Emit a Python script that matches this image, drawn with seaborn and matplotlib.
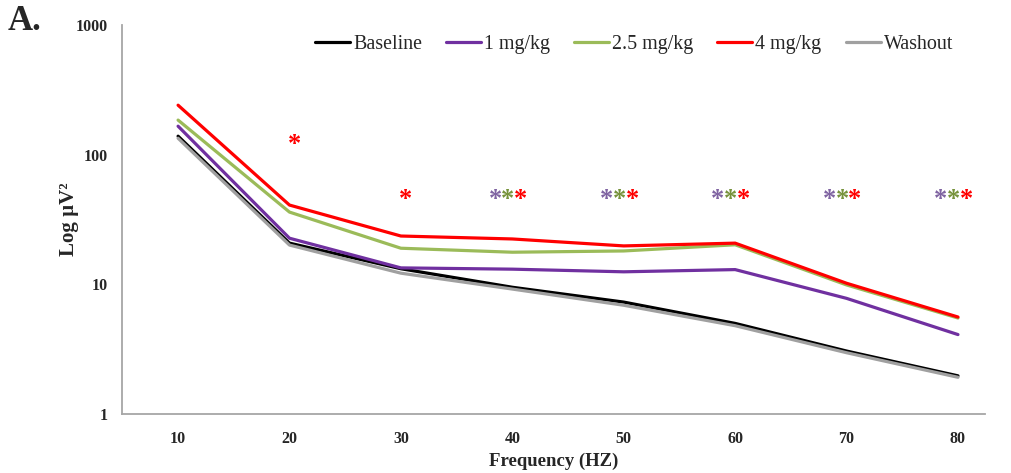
import matplotlib
matplotlib.use('Agg')
import matplotlib.pyplot as plt
import pandas as pd
import seaborn as sns
from matplotlib.ticker import FixedLocator, NullLocator

frequency = [10, 20, 30, 40, 50, 60, 70, 80]
baseline = [139, 20.8, 13.2, 9.5, 7.3, 5.0, 3.06, 1.97]
dose_1 = [166, 22.7, 13.4, 13.1, 12.5, 13.0, 7.8, 4.1]
dose_2_5 = [185, 36.1, 19.0, 17.7, 18.1, 20.2, 9.9, 5.5]
dose_4 = [241, 40.9, 23.6, 22.4, 19.8, 20.8, 10.2, 5.6]
washout = [134, 20.1, 12.2, 9.2, 6.9, 4.8, 2.97, 1.92]

series_names = ['Baseline', '1 mg/kg', '2.5 mg/kg', '4 mg/kg', 'Washout']
series_values = [baseline, dose_1, dose_2_5, dose_4, washout]
colors = ['#000000', '#7030a0', '#9bbb59', '#ff0000', '#a0a0a0']

# significance markers: (frequency, height, which doses)
star_freq = [20, 30, 40, 50, 60, 70, 80]
star_height = [119, 45, 45, 45, 45, 45, 45]
star_groups = [['4'], ['4'], ['1', '2.5', '4'], ['1', '2.5', '4'],
               ['1', '2.5', '4'], ['1', '2.5', '4'], ['1', '2.5', '4']]
star_colors = {'1': '#8064a2', '2.5': '#77933c', '4': '#ff0000'}

sns.set_style('white')
plt.rcParams['font.family'] = ['Liberation Serif', 'DejaVu Serif']

rows = []
for name, vals in zip(series_names, series_values):
    for f, v in zip(frequency, vals):
        rows.append({'freq': f, 'power': v, 'group': name})
df = pd.DataFrame(rows)

fig = plt.figure(figsize=(10.11, 4.73), dpi=100)
ax = fig.add_axes([0.1207, 0.1247, 0.8533, 0.8223])

sns.lineplot(data=df, x='freq', y='power', hue='group', hue_order=series_names,
             palette=colors, linewidth=2.3, ax=ax)
ax.set_yscale('log')
ax.set_ylim(1, 1000)
ax.set_xlim(4.97, 82.4)
ax.yaxis.set_major_locator(FixedLocator([1, 10, 100, 1000]))
ax.yaxis.set_minor_locator(NullLocator())
ax.set_yticklabels(['1', '10', '100', '1000'])
ax.set_xticks(frequency)

for s in ['top', 'right']:
    ax.spines[s].set_visible(False)
for s in ['left', 'bottom']:
    ax.spines[s].set_color('#a6a6a6')
    ax.spines[s].set_linewidth(1.3)
ax.tick_params(axis='both', direction='out', length=5, width=1.1, color='#a6a6a6',
               labelsize=11.5)
ax.tick_params(axis='y', pad=5)
ax.tick_params(axis='x', pad=7)
for lab in ax.get_xticklabels() + ax.get_yticklabels():
    lab.set_fontweight('bold')

ax.set_xlabel('Frequency (HZ)', fontsize=13.5, fontweight='bold', labelpad=4)
ax.set_ylabel('Log µV²', fontsize=15, fontweight='bold', labelpad=-2)

offsets = {'1': -1.55, '2.5': -0.4, '4': 0.75}
for f, h, grp in zip(star_freq, star_height, star_groups):
    for g in grp:
        dx = offsets[g] if len(grp) > 1 else 0.45
        ax.text(f + dx, h, '*', color=star_colors[g], ha='center', va='center',
                fontsize=19, fontweight='bold')

handles, labels = ax.get_legend_handles_labels()
ax.legend(handles, labels, ncol=5, frameon=False, loc='center',
          bbox_to_anchor=(0.5935, 0.949), fontsize=14.4, handlelength=1.75,
          handletextpad=0.15, columnspacing=1.2)

fig.text(0.008, 0.955, 'A.', fontsize=25, fontweight='bold', va='center')

fig.savefig('out.png', dpi=100)
